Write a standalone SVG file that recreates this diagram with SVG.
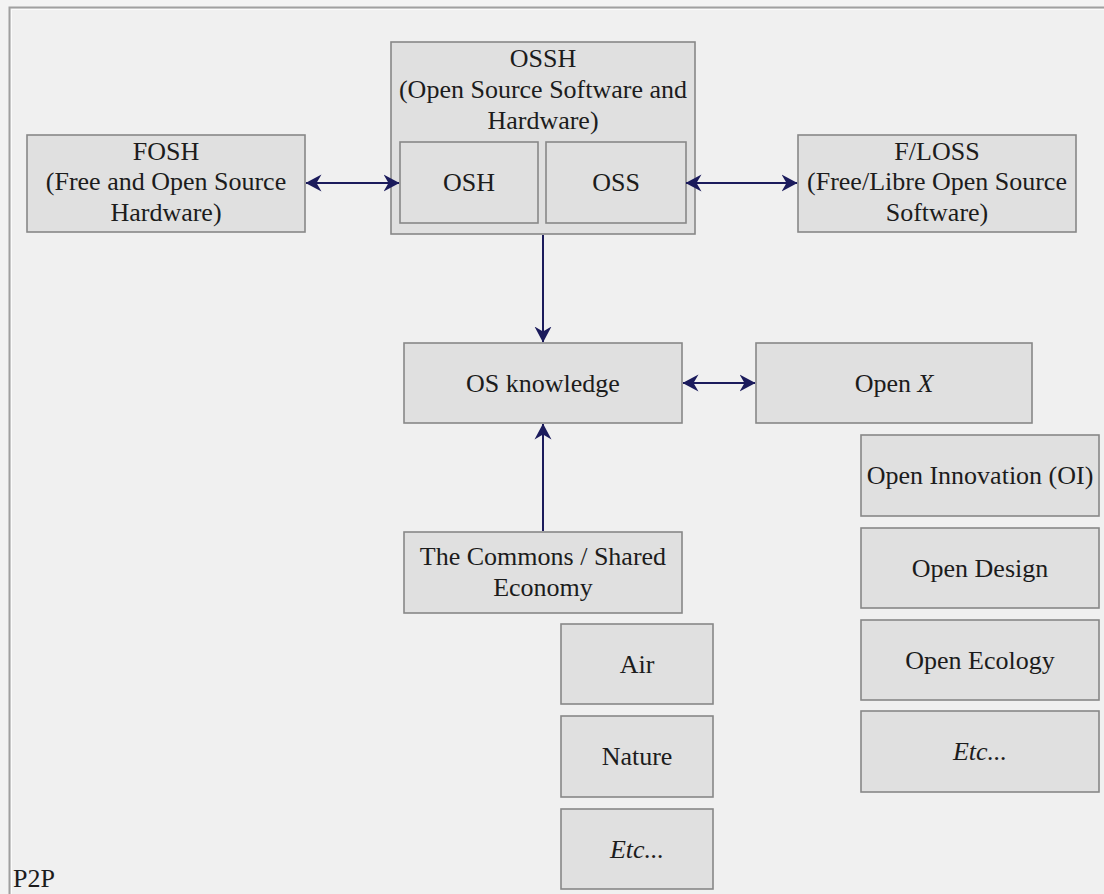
<svg xmlns="http://www.w3.org/2000/svg" width="1104" height="894" viewBox="0 0 1104 894">
  <style>
    .box { fill: #e0e0e0; stroke: #888888; stroke-width: 1.6; }
    .lbl { font-family: "Liberation Serif", "Times New Roman", serif; font-size: 26px; fill: #1c1c1c; text-anchor: middle; }
    .it { font-style: italic; }
    .link { stroke: #1b1b5c; stroke-width: 2; fill: none; }
  </style>
  <defs>
    <!-- barbed arrowhead, reused at both ends of two-way links -->
    <marker id="head" viewBox="0 -9 16 18" refX="15.5" refY="0" markerWidth="16" markerHeight="18" markerUnits="userSpaceOnUse" orient="auto-start-reverse">
      <path d="M16 0 L0 -8.5 L5 0 L0 8.5 Z" fill="#1b1b5c"/>
    </marker>
  </defs>

  <!-- canvas and sunken frame -->
  <rect x="0" y="0" width="1104" height="894" fill="#f3f3f3"/>
  <rect x="10" y="8" width="1094" height="886" fill="#f0f0f0"/>
  <path d="M9.5 894 V7.5 H1104" stroke="#a0a0a0" stroke-width="2" fill="none"/>
  <path d="M11.5 894 V9.5 H1104" stroke="#fbfbfb" stroke-width="1" fill="none"/>

  <g id="fosh">
    <rect class="box" x="27" y="135" width="278" height="97"/>
    <text class="lbl" x="166" y="160">FOSH</text>
    <text class="lbl" x="166" y="190">(Free and Open Source</text>
    <text class="lbl" x="166" y="221">Hardware)</text>
  </g>

  <g id="ossh">
    <rect class="box" x="391" y="42" width="304" height="192"/>
    <text class="lbl" x="543" y="67">OSSH</text>
    <text class="lbl" x="543" y="98">(Open Source Software and</text>
    <text class="lbl" x="543" y="129">Hardware)</text>
  </g>

  <g id="osh">
    <rect class="box" x="400" y="142" width="138" height="81"/>
    <text class="lbl" x="469" y="191">OSH</text>
  </g>

  <g id="oss">
    <rect class="box" x="546" y="142" width="140" height="81"/>
    <text class="lbl" x="616" y="191">OSS</text>
  </g>

  <g id="floss">
    <rect class="box" x="798" y="135" width="278" height="97"/>
    <text class="lbl" x="937" y="160">F/LOSS</text>
    <text class="lbl" x="937" y="190">(Free/Libre Open Source</text>
    <text class="lbl" x="937" y="221">Software)</text>
  </g>

  <g id="os-knowledge">
    <rect class="box" x="404" y="343" width="278" height="80"/>
    <text class="lbl" x="543" y="392">OS knowledge</text>
  </g>

  <g id="open-x">
    <rect class="box" x="756" y="343" width="276" height="80"/>
    <text class="lbl" x="894" y="392">Open <tspan class="it">X</tspan></text>
  </g>

  <g id="commons">
    <rect class="box" x="404" y="532" width="278" height="81"/>
    <text class="lbl" x="543" y="565">The Commons / Shared</text>
    <text class="lbl" x="543" y="596">Economy</text>
  </g>

  <g id="air">
    <rect class="box" x="561" y="624" width="152" height="80"/>
    <text class="lbl" x="637" y="673">Air</text>
  </g>

  <g id="nature">
    <rect class="box" x="561" y="716" width="152" height="81"/>
    <text class="lbl" x="637" y="765">Nature</text>
  </g>

  <g id="etc-commons">
    <rect class="box" x="561" y="809" width="152" height="80"/>
    <text class="lbl it" x="637" y="858">Etc...</text>
  </g>

  <g id="open-innovation">
    <rect class="box" x="861" y="435" width="238" height="81"/>
    <text class="lbl" x="980" y="484">Open Innovation (OI)</text>
  </g>

  <g id="open-design">
    <rect class="box" x="861" y="528" width="238" height="80"/>
    <text class="lbl" x="980" y="577">Open Design</text>
  </g>

  <g id="open-ecology">
    <rect class="box" x="861" y="620" width="238" height="80"/>
    <text class="lbl" x="980" y="669">Open Ecology</text>
  </g>

  <g id="etc-open">
    <rect class="box" x="861" y="711" width="238" height="81"/>
    <text class="lbl it" x="980" y="760">Etc...</text>
  </g>

  <g id="p2p">
    <text class="lbl" x="13" y="887" style="text-anchor:start">P2P</text>
  </g>

  <!-- connectors, drawn last so they run over the OSSH container -->
  <g id="connectors">
    <line class="link" x1="306" y1="183" x2="399" y2="183" marker-start="url(#head)" marker-end="url(#head)"/>
    <line class="link" x1="686" y1="183" x2="797" y2="183" marker-start="url(#head)" marker-end="url(#head)"/>
    <line class="link" x1="543" y1="235" x2="543" y2="342" marker-end="url(#head)"/>
    <line class="link" x1="683" y1="383" x2="755" y2="383" marker-start="url(#head)" marker-end="url(#head)"/>
    <line class="link" x1="543" y1="531" x2="543" y2="424" marker-end="url(#head)"/>
  </g>
</svg>
